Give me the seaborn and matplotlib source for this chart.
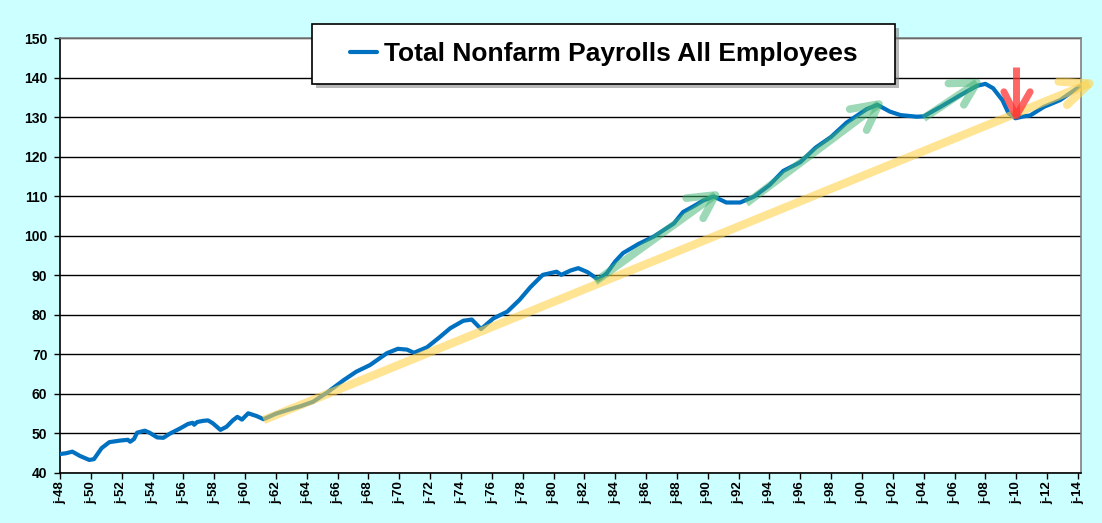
import numpy as np
import pandas as pd
import seaborn as sns
import matplotlib
matplotlib.use("Agg")
import matplotlib.pyplot as plt
from matplotlib.patches import Rectangle

# values (millions of employees)
years = [1948.0, 1948.4, 1948.8, 1949.3, 1949.9, 1950.2, 1950.7, 1951.2, 1951.9, 1952.4,
         1952.55, 1952.8, 1953.0, 1953.5, 1953.8, 1954.3, 1954.7, 1955.1, 1955.8, 1956.3,
         1956.6, 1956.7, 1956.9, 1957.3, 1957.6, 1957.9, 1958.4, 1958.8, 1959.2, 1959.5,
         1959.8, 1960.2, 1960.75, 1961.2, 1962.0, 1962.9, 1963.6, 1964.4, 1965.3, 1966.4,
         1967.2, 1968.1, 1969.2, 1969.9, 1970.5, 1970.95, 1971.8, 1972.6, 1973.3, 1974.15,
         1974.7, 1975.3, 1976.1, 1977.0, 1977.8, 1978.5, 1979.3, 1980.2, 1980.5, 1981.1,
         1981.6, 1982.2, 1982.9, 1983.45, 1984.0, 1984.5, 1985.5, 1986.5, 1987.8, 1988.4,
         1989.1, 1989.7, 1990.4, 1991.2, 1992.1, 1993.0, 1994.0, 1994.9, 1996.0, 1997.0,
         1998.0, 1999.0, 2000.3, 2001.0, 2001.8, 2002.5, 2003.55, 2004.0, 2005.1, 2006.4,
         2007.45, 2008.0, 2008.5, 2009.1, 2009.5, 2009.95, 2010.5, 2010.9, 2011.8, 2012.85,
         2014.1]
payrolls = [44.8, 45.0, 45.4, 44.3, 43.3, 43.5, 46.3, 47.8, 48.2, 48.4,
            47.9, 48.6, 50.2, 50.7, 50.2, 49.0, 48.9, 49.9, 51.3, 52.4,
            52.7, 52.2, 52.9, 53.2, 53.3, 52.6, 50.9, 51.7, 53.3, 54.2,
            53.5, 55.1, 54.4, 53.6, 55.0, 56.1, 56.9, 58.0, 60.3, 63.5,
            65.6, 67.3, 70.3, 71.4, 71.2, 70.4, 71.8, 74.3, 76.6, 78.5,
            78.8, 76.4, 79.1, 80.8, 83.8, 87.0, 90.1, 90.9, 90.1, 91.2,
            91.8, 90.8, 88.9, 90.5, 93.5, 95.6, 97.9, 99.8, 103.1, 106.0,
            107.5, 108.9, 109.9, 108.4, 108.4, 109.9, 112.8, 116.4, 118.6, 122.3,
            125.0, 128.6, 132.0, 133.1, 131.4, 130.5, 130.1, 130.2, 132.6, 135.6,
            137.9, 138.4, 137.3, 134.3, 131.0, 129.7, 130.2, 130.4, 132.6, 134.3,
            137.7]
tick_years = list(range(1948, 2015, 2))
tick_labels = [f"j-{y % 100:02d}" for y in tick_years]

# hand drawn annotations (year, value): shaft start, tip, two head ends
trend_arrow = [(1961.2, 53.4), (2014.75, 138.5), (2012.75, 139.0), (2013.3, 133.1)]
green_arrows = [
    [(1982.7, 88.4), (1990.5, 110.3), (1988.6, 109.5), (1989.7, 104.4)],
    [(1992.5, 108.2), (2001.1, 133.3), (1999.2, 132.0), (2000.3, 126.7)],
    [(2004.0, 129.7), (2007.45, 138.7), (2005.6, 138.5), (2006.6, 133.1)],
]
red_arrow = [(2010.0, 142.7), (2010.0, 130.3), (2009.2, 136.4), (2010.9, 136.4)]

df = pd.DataFrame({"year": years, "payrolls": payrolls})

sns.set_style("white")
plt.rcParams["font.family"] = ["Liberation Sans", "DejaVu Sans"]
plt.rcParams["text.color"] = "black"
plt.rcParams["xtick.color"] = "black"
plt.rcParams["ytick.color"] = "black"

W, H = 1102, 523
fig = plt.figure(figsize=(W / 100, H / 100), dpi=100, facecolor="#CCFFFF")
ax = fig.add_axes([60 / W, 50 / H, 1021 / W, 435 / H])
ax.set_facecolor("white")

sns.lineplot(data=df, x="year", y="payrolls", ax=ax, color="#0070C0",
             linewidth=3.0, label="Total Nonfarm Payrolls All Employees", zorder=3)


def draw_arrow(pts, color, alpha, lw):
    (x0, y0), (x1, y1), (hx1, hy1), (hx2, hy2) = pts
    ax.plot([x0, x1], [y0, y1], color=color, alpha=alpha, lw=lw,
            solid_capstyle="butt", clip_on=False, zorder=4)
    ax.plot([hx1, x1, hx2], [hy1, y1, hy2], color=color, alpha=alpha, lw=lw,
            solid_capstyle="round", solid_joinstyle="round", clip_on=False, zorder=4)


draw_arrow(trend_arrow, "#FFD24D", 0.6, 6.0)
for arr in green_arrows:
    draw_arrow(arr, "#3CB371", 0.5, 5.5)
draw_arrow(red_arrow, "#FF3333", 0.75, 5.0)

ax.set_xlim(1948, 2014.2)
ax.set_ylim(40, 150)
ax.set_xticks(tick_years)
ax.set_xticklabels(tick_labels, rotation=90, fontsize=9.5, fontweight="bold")
ax.set_yticks(range(40, 151, 10))
ax.set_yticklabels([str(v) for v in range(40, 151, 10)], fontsize=10, fontweight="bold")
ax.tick_params(axis="y", direction="out", length=4, width=1, pad=5, colors="black", left=True)
ax.tick_params(axis="x", direction="out", length=4, width=1, pad=2, colors="black", bottom=True)
ax.set_xlabel("")
ax.set_ylabel("")
ax.set_axisbelow(True)
ax.yaxis.grid(True, color="black", linewidth=1.0)
ax.xaxis.grid(False)
for side in ["left", "bottom"]:
    ax.spines[side].set_color("black")
    ax.spines[side].set_linewidth(1.2)
for side in ["top", "right"]:
    ax.spines[side].set_color("#808080")
    ax.spines[side].set_linewidth(1.2)

# legend frame with drop shadow
bx, by, bw, bh = 312 / W, 1 - 84 / H, 583 / W, 60 / H
ax.add_patch(Rectangle((bx + 4 / W, by - 4 / H), bw, bh, transform=fig.transFigure,
                       facecolor="#7F7F7F", alpha=0.55, edgecolor="none", clip_on=False, zorder=6))
ax.add_patch(Rectangle((bx, by), bw, bh, transform=fig.transFigure, facecolor="white",
                       edgecolor="black", linewidth=1.2, clip_on=False, zorder=6))
leg = ax.legend(loc="center", bbox_to_anchor=(bx + bw / 2, by + bh / 2),
                bbox_transform=fig.transFigure, frameon=False, handlelength=1.05,
                handletextpad=0.25, prop={"size": 19, "weight": "bold"})
for t in leg.get_texts():
    t.set_color("black")
leg.set_zorder(7)

fig.savefig("out.png", dpi=100, facecolor=fig.get_facecolor())
